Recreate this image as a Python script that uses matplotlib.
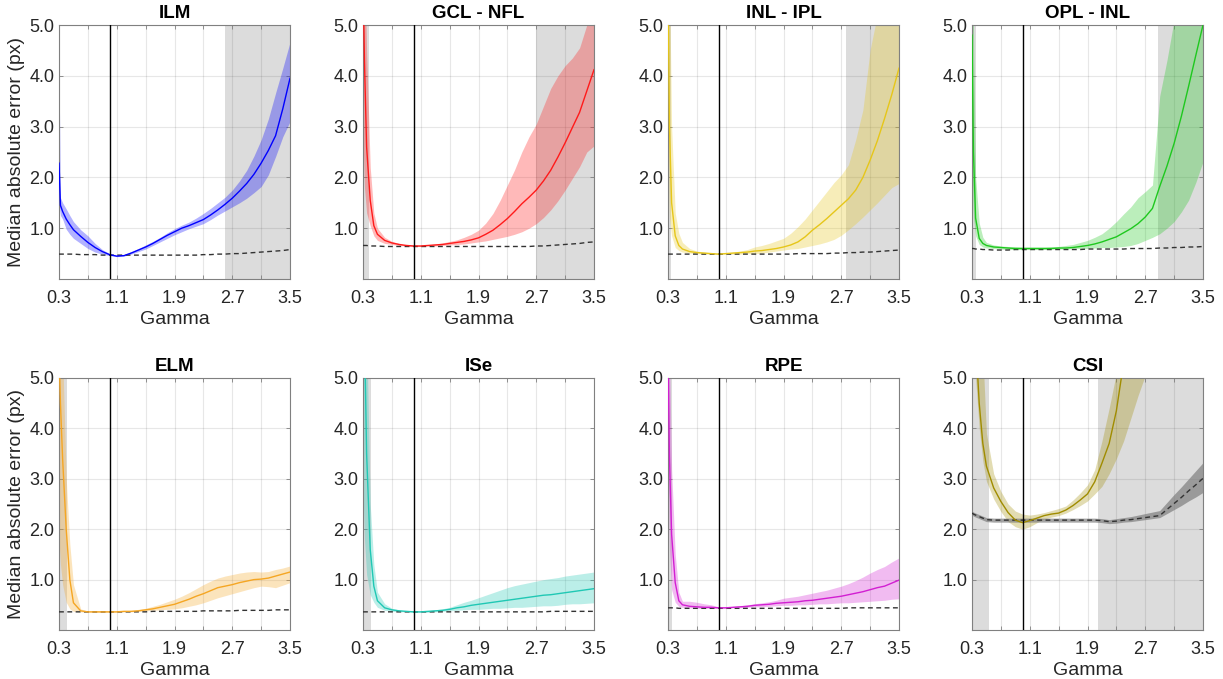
import numpy as np
import matplotlib
matplotlib.use("Agg")
import matplotlib.pyplot as plt
from matplotlib.ticker import FixedLocator, FormatStrFormatter

plt.rcParams['font.family'] = ['Liberation Sans', 'DejaVu Sans']

gamma = [0.30, 0.32, 0.35, 0.40, 0.45, 0.50, 0.60, 0.70, 0.80, 0.90, 1.00, 1.10,
         1.20, 1.30, 1.40, 1.50, 1.60, 1.70, 1.80, 1.90, 2.00, 2.10, 2.20, 2.30,
         2.40, 2.50, 2.60, 2.70, 2.80, 2.90, 3.00, 3.10, 3.20, 3.30, 3.40, 3.50]

titles = ["ILM", "GCL - NFL", "INL - IPL", "OPL - INL", "ELM", "ISe", "RPE", "CSI"]
colors = ["#0000ff", "#ff1a1a", "#e6c619", "#1ec81e", "#f5a623", "#20c8b4", "#d21fd2", "#a08c00"]

# ILM
ilm_med = [2.28, 1.45, 1.33, 1.18, 1.07, 0.97, 0.84, 0.72, 0.62, 0.54, 0.48, 0.45, 0.46, 0.51, 0.57, 0.63, 0.70, 0.78,
           0.86, 0.93, 1.00, 1.05, 1.11, 1.17, 1.26, 1.36, 1.47, 1.59, 1.73, 1.88, 2.06, 2.28, 2.53, 2.82, 3.35, 3.95]
ilm_up = [4.20, 1.60, 1.50, 1.38, 1.25, 1.13, 0.97, 0.85, 0.70, 0.58, 0.50, 0.46, 0.48, 0.54, 0.60, 0.67, 0.74, 0.82,
          0.91, 0.99, 1.06, 1.12, 1.20, 1.29, 1.39, 1.50, 1.61, 1.75, 1.93, 2.14, 2.42, 2.74, 3.15, 3.66, 4.15, 4.66]
ilm_lo = [1.50, 1.25, 1.18, 0.98, 0.88, 0.80, 0.70, 0.60, 0.53, 0.49, 0.46, 0.44, 0.45, 0.49, 0.54, 0.59, 0.66, 0.73,
          0.80, 0.87, 0.93, 0.99, 1.04, 1.09, 1.17, 1.26, 1.34, 1.42, 1.50, 1.59, 1.70, 1.82, 2.05, 2.41, 2.80, 3.10]
ilm_base = [0.49, 0.49, 0.49, 0.49, 0.49, 0.49, 0.48, 0.48, 0.48, 0.47, 0.47, 0.47, 0.47, 0.47, 0.47, 0.47, 0.47, 0.47,
            0.47, 0.47, 0.47, 0.47, 0.47, 0.48, 0.48, 0.49, 0.49, 0.50, 0.50, 0.51, 0.52, 0.53, 0.54, 0.55, 0.56, 0.58]

# GCL - NFL
gcl_med = [6.00, 4.30, 2.60, 1.55, 1.05, 0.88, 0.76, 0.71, 0.68, 0.66, 0.65, 0.65, 0.66, 0.67, 0.68, 0.70, 0.72, 0.74,
           0.77, 0.81, 0.88, 0.96, 1.07, 1.19, 1.33, 1.48, 1.61, 1.75, 1.93, 2.14, 2.40, 2.68, 2.98, 3.28, 3.70, 4.12]
gcl_up = [7.00, 6.50, 4.50, 2.20, 1.30, 1.00, 0.82, 0.74, 0.70, 0.67, 0.66, 0.66, 0.67, 0.69, 0.71, 0.74, 0.77, 0.82,
          0.88, 0.96, 1.10, 1.29, 1.55, 1.85, 2.15, 2.50, 2.80, 3.05, 3.40, 3.75, 4.00, 4.20, 4.35, 4.55, 5.00, 5.40]
gcl_lo = [2.80, 1.80, 1.30, 1.05, 0.85, 0.76, 0.70, 0.68, 0.66, 0.65, 0.64, 0.64, 0.65, 0.65, 0.66, 0.67, 0.68, 0.69,
          0.71, 0.73, 0.75, 0.78, 0.81, 0.84, 0.88, 0.93, 1.00, 1.09, 1.21, 1.36, 1.54, 1.75, 1.98, 2.21, 2.50, 2.62]
gcl_base = [0.66, 0.66, 0.66, 0.65, 0.65, 0.65, 0.64, 0.64, 0.64, 0.64, 0.64, 0.64, 0.64, 0.64, 0.64, 0.64, 0.64, 0.64,
            0.64, 0.64, 0.64, 0.64, 0.64, 0.64, 0.64, 0.64, 0.64, 0.65, 0.65, 0.66, 0.67, 0.68, 0.69, 0.70, 0.72, 0.73]

# INL - IPL
inl_med = [6.00, 3.00, 1.50, 0.85, 0.66, 0.59, 0.54, 0.52, 0.51, 0.50, 0.49, 0.50, 0.51, 0.52, 0.53, 0.55, 0.56, 0.58,
           0.60, 0.63, 0.67, 0.73, 0.83, 0.96, 1.07, 1.19, 1.32, 1.45, 1.58, 1.75, 2.00, 2.34, 2.72, 3.16, 3.63, 4.15]
inl_up = [7.00, 6.00, 3.00, 1.30, 0.90, 0.72, 0.60, 0.55, 0.53, 0.51, 0.50, 0.51, 0.53, 0.55, 0.58, 0.63, 0.66, 0.70,
          0.75, 0.80, 0.90, 1.03, 1.18, 1.36, 1.54, 1.72, 1.90, 2.05, 2.25, 2.74, 3.33, 4.51, 5.20, 5.60, 6.00, 6.50]
inl_lo = [2.35, 1.20, 0.85, 0.62, 0.56, 0.53, 0.51, 0.50, 0.49, 0.49, 0.48, 0.49, 0.49, 0.49, 0.50, 0.50, 0.51, 0.53,
          0.55, 0.57, 0.59, 0.60, 0.63, 0.66, 0.69, 0.73, 0.78, 0.86, 0.97, 1.09, 1.22, 1.36, 1.50, 1.65, 1.80, 1.88]
inl_base = [0.49, 0.49, 0.49, 0.49, 0.49, 0.49, 0.49, 0.49, 0.49, 0.49, 0.49, 0.49, 0.49, 0.49, 0.49, 0.49, 0.49, 0.49,
            0.49, 0.49, 0.49, 0.50, 0.50, 0.50, 0.50, 0.50, 0.51, 0.51, 0.52, 0.52, 0.53, 0.53, 0.54, 0.55, 0.56, 0.57]

# OPL - INL
opl_med = [4.80, 2.50, 1.20, 0.80, 0.70, 0.66, 0.63, 0.62, 0.61, 0.60, 0.60, 0.60, 0.60, 0.60, 0.60, 0.61, 0.61, 0.62,
           0.64, 0.66, 0.69, 0.73, 0.78, 0.83, 0.91, 0.99, 1.09, 1.22, 1.39, 1.82, 2.22, 2.67, 3.20, 3.79, 4.40, 5.00]
opl_up = [6.50, 5.00, 2.00, 1.10, 0.82, 0.72, 0.67, 0.65, 0.64, 0.64, 0.63, 0.63, 0.63, 0.63, 0.64, 0.64, 0.66, 0.68,
          0.72, 0.76, 0.82, 0.89, 1.00, 1.13, 1.28, 1.42, 1.60, 1.72, 1.85, 3.60, 4.30, 5.10, 5.80, 6.50, 7.00, 7.50]
opl_lo = [2.20, 1.20, 0.85, 0.68, 0.63, 0.61, 0.60, 0.59, 0.58, 0.58, 0.58, 0.58, 0.58, 0.58, 0.59, 0.59, 0.59, 0.60,
          0.60, 0.60, 0.61, 0.62, 0.62, 0.63, 0.64, 0.66, 0.70, 0.76, 0.82, 0.89, 1.00, 1.13, 1.32, 1.55, 1.90, 2.31]
opl_base = [0.60, 0.60, 0.59, 0.59, 0.58, 0.58, 0.57, 0.57, 0.57, 0.58, 0.58, 0.58, 0.58, 0.58, 0.58, 0.58, 0.58, 0.58,
            0.58, 0.59, 0.59, 0.59, 0.59, 0.59, 0.59, 0.60, 0.60, 0.60, 0.60, 0.61, 0.61, 0.62, 0.62, 0.63, 0.63, 0.64]

# ELM
elm_med = [5.50, 4.50, 3.40, 2.00, 1.00, 0.54, 0.38, 0.36, 0.36, 0.36, 0.36, 0.36, 0.37, 0.37, 0.38, 0.40, 0.42, 0.45,
           0.48, 0.51, 0.56, 0.61, 0.67, 0.72, 0.78, 0.84, 0.87, 0.90, 0.94, 0.97, 1.00, 1.01, 1.03, 1.07, 1.11, 1.15]
elm_up = [7.00, 6.50, 5.50, 3.00, 1.70, 0.90, 0.42, 0.37, 0.37, 0.37, 0.37, 0.37, 0.38, 0.39, 0.41, 0.43, 0.47, 0.51,
          0.56, 0.61, 0.67, 0.74, 0.82, 0.90, 0.97, 1.03, 1.07, 1.10, 1.13, 1.15, 1.16, 1.15, 1.16, 1.20, 1.23, 1.27]
elm_lo = [1.80, 1.30, 0.90, 0.55, 0.42, 0.37, 0.36, 0.35, 0.35, 0.35, 0.35, 0.35, 0.36, 0.36, 0.37, 0.38, 0.39, 0.40,
          0.41, 0.42, 0.44, 0.47, 0.50, 0.54, 0.59, 0.64, 0.68, 0.72, 0.76, 0.80, 0.84, 0.87, 0.86, 0.84, 0.89, 0.94]
elm_base = [0.36, 0.36, 0.36, 0.36, 0.36, 0.36, 0.36, 0.36, 0.36, 0.36, 0.36, 0.36, 0.36, 0.36, 0.36, 0.36, 0.37, 0.37,
            0.37, 0.37, 0.37, 0.37, 0.37, 0.38, 0.38, 0.38, 0.38, 0.38, 0.39, 0.39, 0.39, 0.39, 0.39, 0.40, 0.40, 0.40]

# ISe
ise_med = [6.50, 6.00, 3.50, 1.60, 0.87, 0.58, 0.44, 0.40, 0.38, 0.37, 0.36, 0.36, 0.37, 0.38, 0.39, 0.41, 0.44, 0.46,
           0.49, 0.51, 0.53, 0.55, 0.57, 0.59, 0.61, 0.63, 0.65, 0.67, 0.69, 0.70, 0.72, 0.74, 0.76, 0.78, 0.80, 0.82]
ise_up = [7.00, 7.00, 6.00, 2.50, 1.30, 0.75, 0.52, 0.43, 0.40, 0.38, 0.37, 0.37, 0.38, 0.40, 0.42, 0.45, 0.50, 0.55,
          0.59, 0.64, 0.69, 0.74, 0.79, 0.84, 0.88, 0.91, 0.94, 0.97, 1.00, 1.02, 1.04, 1.07, 1.09, 1.11, 1.13, 1.15]
ise_lo = [2.80, 1.80, 1.10, 0.70, 0.55, 0.45, 0.39, 0.37, 0.36, 0.36, 0.35, 0.35, 0.35, 0.36, 0.37, 0.38, 0.39, 0.40,
          0.41, 0.41, 0.42, 0.43, 0.43, 0.44, 0.45, 0.45, 0.46, 0.47, 0.48, 0.48, 0.49, 0.51, 0.52, 0.52, 0.53, 0.54]
ise_base = [0.36, 0.36, 0.36, 0.36, 0.36, 0.36, 0.36, 0.36, 0.36, 0.36, 0.36, 0.36, 0.36, 0.36, 0.36, 0.36, 0.36, 0.36,
            0.36, 0.36, 0.36, 0.36, 0.36, 0.36, 0.36, 0.36, 0.36, 0.36, 0.36, 0.37, 0.37, 0.37, 0.37, 0.37, 0.37, 0.37]

# RPE
rpe_med = [5.50, 3.44, 1.90, 0.94, 0.58, 0.50, 0.47, 0.46, 0.45, 0.45, 0.44, 0.44, 0.45, 0.46, 0.47, 0.49, 0.50, 0.51,
           0.53, 0.54, 0.55, 0.56, 0.58, 0.59, 0.61, 0.63, 0.65, 0.67, 0.70, 0.73, 0.76, 0.80, 0.84, 0.87, 0.93, 0.99]
rpe_up = [7.00, 5.50, 3.20, 1.50, 0.75, 0.57, 0.57, 0.55, 0.52, 0.50, 0.46, 0.45, 0.47, 0.48, 0.50, 0.52, 0.54, 0.56,
          0.59, 0.63, 0.65, 0.67, 0.70, 0.73, 0.76, 0.79, 0.83, 0.87, 0.92, 0.98, 1.05, 1.13, 1.20, 1.26, 1.35, 1.43]
rpe_lo = [3.60, 1.60, 0.80, 0.55, 0.47, 0.45, 0.44, 0.43, 0.43, 0.43, 0.43, 0.43, 0.44, 0.44, 0.45, 0.46, 0.46, 0.47,
          0.48, 0.49, 0.49, 0.50, 0.50, 0.51, 0.52, 0.52, 0.53, 0.54, 0.54, 0.55, 0.56, 0.57, 0.58, 0.59, 0.61, 0.62]
rpe_base = [0.44, 0.44, 0.44, 0.44, 0.43, 0.43, 0.43, 0.43, 0.43, 0.43, 0.43, 0.43, 0.43, 0.43, 0.43, 0.43, 0.43, 0.43,
            0.43, 0.43, 0.43, 0.43, 0.43, 0.43, 0.43, 0.43, 0.43, 0.43, 0.44, 0.44, 0.44, 0.44, 0.44, 0.44, 0.44, 0.44]

# CSI
csi_med = [7.00, 6.50, 5.80, 4.50, 3.70, 3.25, 2.82, 2.55, 2.33, 2.18, 2.13, 2.17, 2.22, 2.27, 2.30, 2.32, 2.38, 2.47,
           2.58, 2.70, 2.94, 3.31, 3.70, 4.35, 5.30, 6.00, 6.50, 7.00, 7.50, 8.00, 8.50, 9.00, 9.50, 10.0, 10.5, 11.0]
csi_up = [8.00, 8.00, 8.00, 7.00, 5.50, 3.90, 3.10, 2.75, 2.50, 2.36, 2.30, 2.28, 2.30, 2.33, 2.37, 2.41, 2.46, 2.58,
          2.72, 2.88, 3.18, 3.75, 4.40, 5.10, 6.00, 7.00, 7.50, 8.00, 8.50, 9.00, 9.50, 10.0, 10.5, 11.0, 11.5, 12.0]
csi_lo = [6.00, 5.50, 5.00, 4.00, 3.35, 2.95, 2.60, 2.35, 2.15, 2.05, 2.00, 2.05, 2.13, 2.20, 2.24, 2.27, 2.32, 2.39,
          2.47, 2.56, 2.70, 2.85, 3.10, 3.40, 3.75, 4.20, 4.65, 5.05, 5.50, 6.00, 6.50, 7.00, 7.50, 8.00, 8.50, 9.00]
csi_base = [2.32, 2.30, 2.28, 2.25, 2.22, 2.19, 2.18, 2.18, 2.18, 2.18, 2.18, 2.18, 2.18, 2.18, 2.18, 2.18, 2.18, 2.18,
            2.18, 2.18, 2.18, 2.17, 2.15, 2.16, 2.18, 2.19, 2.21, 2.23, 2.25, 2.27, 2.39, 2.51, 2.63, 2.76, 2.88, 3.01]
csi_base_up = [2.36, 2.34, 2.32, 2.29, 2.26, 2.23, 2.22, 2.22, 2.22, 2.22, 2.22, 2.22, 2.22, 2.22, 2.22, 2.22, 2.22, 2.22,
               2.22, 2.22, 2.22, 2.21, 2.19, 2.21, 2.23, 2.25, 2.28, 2.31, 2.34, 2.37, 2.53, 2.69, 2.84, 3.00, 3.16, 3.32]
csi_base_lo = [2.28, 2.26, 2.24, 2.21, 2.18, 2.15, 2.14, 2.14, 2.14, 2.14, 2.14, 2.14, 2.14, 2.14, 2.14, 2.14, 2.14, 2.14,
               2.14, 2.14, 2.14, 2.13, 2.11, 2.12, 2.14, 2.15, 2.17, 2.19, 2.21, 2.23, 2.31, 2.39, 2.47, 2.56, 2.64, 2.73]

medians = [ilm_med, gcl_med, inl_med, opl_med, elm_med, ise_med, rpe_med, csi_med]
uppers = [ilm_up, gcl_up, inl_up, opl_up, elm_up, ise_up, rpe_up, csi_up]
lowers = [ilm_lo, gcl_lo, inl_lo, opl_lo, elm_lo, ise_lo, rpe_lo, csi_lo]
baselines = [ilm_base, gcl_base, inl_base, opl_base, elm_base, ise_base, rpe_base, csi_base]

# excluded gamma ranges (grey shading)
shaded = [
    [(2.60, 3.50)],
    [(0.30, 0.38), (2.70, 3.50)],
    [(0.30, 0.34), (2.77, 3.50)],
    [(0.30, 0.35), (2.88, 3.50)],
    [(0.30, 0.41)],
    [(0.30, 0.41)],
    [(0.30, 0.36)],
    [(0.30, 0.53), (2.05, 3.50)],
]

ref_gamma = 1.0
xticks = [0.3, 1.1, 1.9, 2.7, 3.5]
xminor = [0.7, 1.5, 2.3, 3.1]
yticks = [1.0, 2.0, 3.0, 4.0, 5.0]

W, H = 1223, 679
fig = plt.figure(figsize=(W / 100, H / 100), dpi=100)

col_left = [59, 363, 668, 972]
ax_w = 231
rows = [(25, 279), (378, 630)]

text_col = "#262626"
for i in range(8):
    r, c = divmod(i, 4)
    top, bot = rows[r]
    ax = fig.add_axes([col_left[c] / W, (H - bot) / H, ax_w / W, (bot - top) / H])
    for (a, b) in shaded[i]:
        ax.axvspan(a, b, color="#dcdcdc", lw=0, zorder=0.1)
    ax.fill_between(gamma, lowers[i], uppers[i], color=colors[i], alpha=0.3, lw=0, zorder=2)
    if i == 7:
        ax.fill_between(gamma, csi_base_lo, csi_base_up, color="#7f7f7f", alpha=0.7, lw=0, zorder=2.5)
    ax.plot(gamma, baselines[i], color="#333333", lw=1.0, ls=(0, (3.5, 2.5)), zorder=3)
    ax.plot(gamma, medians[i], color=colors[i], lw=1.0, zorder=4)
    ax.axvline(ref_gamma, color="black", lw=1.0, zorder=5)

    ax.set_xlim(0.3, 3.5)
    ax.set_ylim(0, 5)
    ax.xaxis.set_major_locator(FixedLocator(xticks))
    ax.xaxis.set_minor_locator(FixedLocator(xminor))
    ax.yaxis.set_major_locator(FixedLocator(yticks))
    ax.yaxis.set_major_formatter(FormatStrFormatter("%.1f"))
    ax.xaxis.set_major_formatter(FormatStrFormatter("%.1f"))
    ax.grid(True, which="both", color="#262626", alpha=0.11, lw=0.8)
    ax.set_axisbelow(True)
    ax.tick_params(which="both", direction="in", length=3, width=0.6, colors="#808080",
                   labelcolor=text_col, labelsize=13, top=True, right=True)
    ax.tick_params(axis="x", pad=8)
    for s in ax.spines.values():
        s.set_color("#808080")
        s.set_linewidth(0.8)
    ax.set_title(titles[i], fontsize=13.5, fontweight="bold", color="black", pad=5)
    ax.set_xlabel("Gamma", fontsize=14, color=text_col, labelpad=3)
    if c == 0:
        ax.set_ylabel("Median absolute error (px)", fontsize=14, color=text_col, labelpad=3)

fig.savefig("out.png", dpi=100)
